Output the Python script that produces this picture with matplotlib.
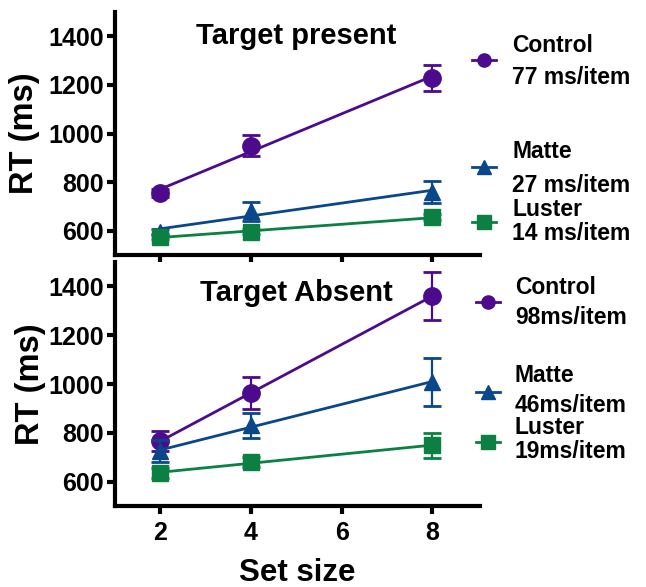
import numpy as np
import matplotlib
matplotlib.use("Agg")
import matplotlib.pyplot as plt

plt.rcParams['font.family'] = ['Liberation Sans', 'DejaVu Sans']
plt.rcParams['font.weight'] = 'bold'

# ---- data ----
set_size = [2, 4, 8]
conditions = ["Control", "Matte", "Luster"]

present_control = [755, 950, 1228]
present_control_err = [15, 42, 55]
present_matte = [595, 680, 760]
present_matte_err = [12, 40, 45]
present_luster = [575, 595, 655]
present_luster_err = [10, 10, 12]

absent_control = [767, 962, 1361]
absent_control_err = [42, 65, 100]
absent_matte = [725, 830, 1008]
absent_matte_err = [45, 50, 100]
absent_luster = [635, 680, 748]
absent_luster_err = [20, 20, 52]

present_slopes = ["77 ms/item", "27 ms/item", "14 ms/item"]
absent_slopes = ["98ms/item", "46ms/item", "19ms/item"]

yticks = [600, 800, 1000, 1200, 1400]
xticks = [2, 4, 6, 8]

colors = ["#4b0b8c", "#0a478a", "#0b8042"]
markers = ["o", "^", "s"]
msizes = [12.5, 12, 12]

W, H = 646, 587
fig = plt.figure(figsize=(W / 100, H / 100), dpi=100)

ax_top = fig.add_axes([115 / W, (H - 255) / H, 365 / W, 243 / H])
ax_bot = fig.add_axes([115 / W, (H - 506) / H, 365 / W, 244 / H])


def draw_panel(ax, series, errs, title, title_y, show_xlabels):
    xs = np.array(set_size, dtype=float)
    for i, (ys, es) in enumerate(zip(series, errs)):
        ys = np.array(ys, dtype=float)
        k, b = np.polyfit(xs, ys, 1)
        ax.plot([xs[0], xs[-1]], [k * xs[0] + b, k * xs[-1] + b],
                color=colors[i], lw=2.0, zorder=2 + i)
        ax.errorbar(xs, ys, yerr=es, fmt="none", ecolor=colors[i],
                    elinewidth=1.6, capsize=6.5, capthick=2.0, zorder=2 + i)
        ax.plot(xs, ys, linestyle="none", marker=markers[i],
                ms=msizes[i], color=colors[i], zorder=2 + i)
    ax.set_xlim(1, 9.05)
    ax.set_ylim(500, 1500)
    ax.set_yticks(yticks)
    ax.set_xticks(xticks)
    for s in ["top", "right"]:
        ax.spines[s].set_visible(False)
    for s in ["left", "bottom"]:
        ax.spines[s].set_linewidth(3)
    ax.tick_params(axis="both", width=3, length=6, labelsize=18, pad=2)
    ax.tick_params(axis="x", pad=5)
    for lab in ax.get_yticklabels() + ax.get_xticklabels():
        lab.set_fontweight("bold")
    if not show_xlabels:
        ax.set_xticklabels([])
    ax.text(0.496, title_y, title, transform=ax.transAxes, ha="center",
            va="center", fontsize=21, fontweight="bold")
    ax.set_ylabel("RT (ms)", fontsize=23.5, fontweight="bold")


draw_panel(ax_top, [present_control, present_matte, present_luster],
           [present_control_err, present_matte_err, present_luster_err],
           "Target present", 0.9, False)
draw_panel(ax_bot, [absent_control, absent_matte, absent_luster],
           [absent_control_err, absent_matte_err, absent_luster_err],
           "Target Absent", 0.874, True)
ax_top.yaxis.set_label_coords(-0.205, 0.5)
ax_bot.yaxis.set_label_coords(-0.19, 0.5)
ax_bot.set_xlabel("Set size", fontsize=22.5, fontweight="bold", labelpad=9)

# ---- legends (pixel overlay) ----
ov = fig.add_axes([0, 0, 1, 1], facecolor="none")
ov.set_xlim(0, W)
ov.set_ylim(H, 0)
ov.axis("off")

top_leg = [(45, 77, 60), (151, 185, 167), (209, 234, 222)]
bot_leg = [(287, 317, 302), (375, 405, 392), (428, 452, 442)]


def draw_legend(entries, slopes, tx, mx):
    for i, ((y1, y2, ym), sl) in enumerate(zip(entries, slopes)):
        ov.plot([mx - 12, mx + 12], [ym, ym], color=colors[i], lw=2.0)
        ov.plot([mx], [ym], marker=markers[i], ms=9.5, color=colors[i],
                linestyle="none")
        ov.text(tx, y1, conditions[i], ha="left", va="center", fontsize=16.5,
                fontweight="bold")
        ov.text(tx, y2, sl, ha="left", va="center", fontsize=16.5,
                fontweight="bold")


draw_legend(top_leg, present_slopes, 512, 484)
draw_legend(bot_leg, absent_slopes, 515, 488)

fig.savefig("out.png", dpi=100)
